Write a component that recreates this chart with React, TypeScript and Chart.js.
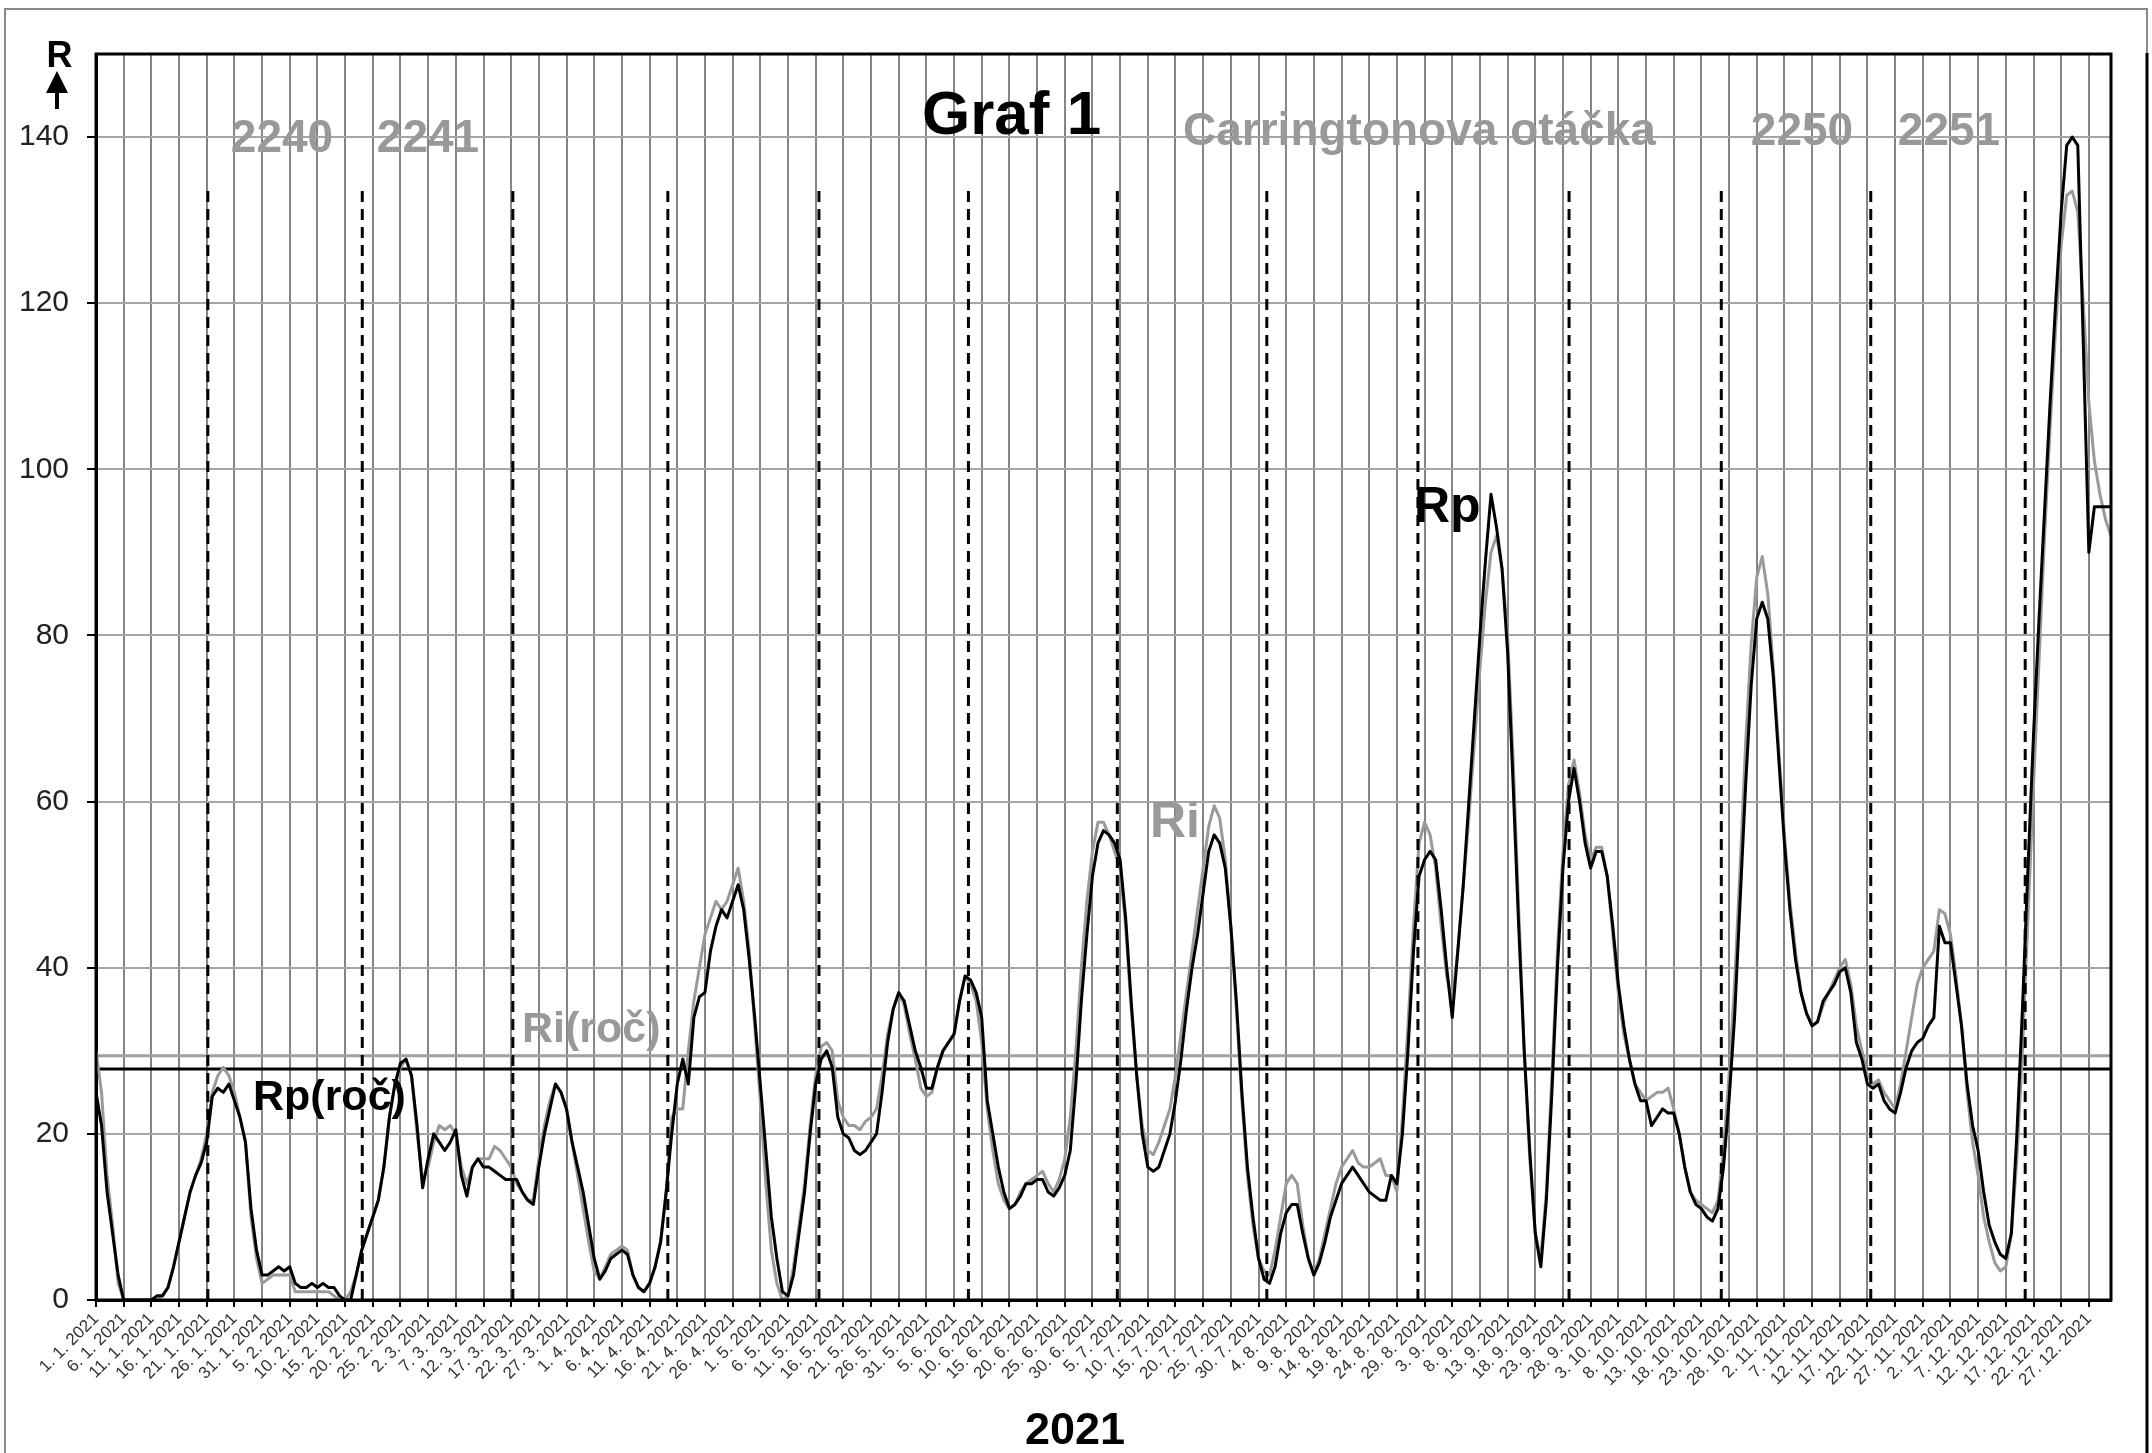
import React, { useEffect, useRef } from 'react';
import { Chart, registerables } from 'chart.js';

Chart.register(...registerables);

const FONT = '"Liberation Sans", Arial, sans-serif';

// Daily values 2021 (index 0 = 1. 1. 2021)
const rpValues = [
  25, 21, 13, 8, 3, 0, 0, 0, 0, 0,
  0, 0.5, 0.5, 1.5, 4, 7, 10, 13, 15, 16.5,
  19, 24.5, 25.5, 25, 26, 24, 22, 19, 11, 6,
  3, 3, 3.5, 4, 3.5, 4, 2, 1.5, 1.5, 2,
  1.5, 2, 1.5, 1.5, 0.5, 0, 0, 3, 6, 8,
  10, 12, 16, 22, 26, 28.5, 29, 27, 21, 13.5,
  17, 20, 19, 18, 19, 20.5, 15, 12.5, 16, 17,
  16, 16, 15.5, 15, 14.5, 14.5, 14.5, 13, 12, 11.5,
  16, 20, 23, 26, 25, 23, 19, 16, 13, 9,
  5, 2.5, 3.5, 5, 5.5, 6, 5.5, 3, 1.5, 1,
  2, 4, 7, 13, 20, 26, 29, 26, 34, 36.5,
  37, 42, 45, 47, 46, 48, 50, 47, 41, 34,
  26, 18, 10, 5, 1, 0.5, 3, 8, 13, 20,
  26, 29, 30, 28, 22, 20, 19.5, 18, 17.5, 18,
  19, 20, 25, 31, 35, 37, 36, 33, 30, 28,
  25.5, 25.5, 28, 30, 31, 32, 36, 39, 38.5, 37,
  34, 24, 20, 16, 13, 11, 11.5, 12.5, 14, 14,
  14.5, 14.5, 13, 12.5, 13.5, 15, 18, 26, 36, 44,
  51, 55, 56.5, 56, 55, 53, 46, 36, 27, 20,
  16, 15.5, 16, 18, 20, 24, 29, 35, 40, 44,
  49, 54, 56, 55, 52, 45, 36, 25, 16, 10,
  5, 2.5, 2, 4, 8, 10.5, 11.5, 11.5, 8, 5,
  3, 4.5, 7, 10, 12, 14, 15, 16, 15, 14,
  13, 12.5, 12, 12, 15, 14, 20, 30, 42, 51,
  53, 54, 53, 47, 40, 34, 42, 50, 60, 70,
  80, 89, 97, 93, 88, 78, 62, 45, 30, 18,
  8, 4, 12, 25, 40, 52, 60, 64, 60, 55,
  52, 54, 54, 51, 45, 38, 33, 29, 26, 24,
  24, 21, 22, 23, 22.5, 22.5, 20, 16, 13, 11.5,
  11, 10, 9.5, 11, 16, 24, 34, 48, 62, 74,
  82, 84, 82, 75, 65, 55, 47, 41, 37, 34.5,
  33, 33.5, 36, 37, 38, 39.5, 40, 37, 31, 29,
  26, 25.5, 26, 24, 23, 22.5, 25, 28, 30, 31,
  31.5, 33, 34, 45, 43, 43, 38, 33, 26, 21,
  18, 13, 9, 7, 5.5, 5, 8, 20, 35, 52,
  68, 82, 95, 108, 120, 131, 139, 140, 139, 115,
  90, 95.5, 95.5, 95.5, 95.5,
];

const riValues = [
  30, 25, 15, 9, 2, 0, 0, 0, 0, 0,
  0, 0, 0.5, 1.5, 4, 7, 10, 13, 15, 17,
  20, 25, 27, 28, 27, 25, 22, 19, 10, 5,
  2, 2.5, 3, 3, 3, 3, 1, 1, 1, 1,
  1, 1, 1, 0.5, 0, 0, 1, 3, 6, 8,
  10, 12, 16, 22, 26, 28, 29, 27, 20, 14.5,
  16, 19, 21, 20.5, 21, 20, 16, 14, 16, 17,
  17, 17, 18.5, 18, 17, 16, 14, 13, 12, 12,
  17, 21, 24, 26, 25, 23, 19, 15, 11, 7,
  3.5, 2.5, 4, 5.5, 6, 6.5, 6, 3, 1.5, 1,
  2, 4, 7, 13, 22, 23, 23, 30, 36, 40,
  44, 46, 48, 47, 48, 50, 52, 48, 42, 33,
  24, 14, 6, 2, 0, 0.5, 4, 9, 14, 21,
  27, 30.5, 31, 30, 24, 22, 21, 21, 20.5, 21.5,
  22, 23, 27, 32, 35, 37, 35.5, 32, 29, 25.5,
  24.5, 25, 28, 30, 31, 32, 36, 39, 38, 36,
  31, 23, 18, 14, 12, 11, 11.5, 13, 14, 14.5,
  15, 15.5, 14, 13, 14.5, 17, 22, 30, 40, 48,
  54, 57.5, 57.5, 56, 54, 52, 45, 35, 27, 21,
  18, 17.5, 19, 21, 23, 27, 32, 37, 42, 47,
  52, 57, 59.5, 58, 53, 45, 35, 24, 15, 9,
  5, 3.5, 3, 6, 10, 14, 15, 14, 9, 5,
  3, 5, 8, 11, 14, 16, 17, 18, 16.5, 16,
  16, 16.5, 17, 15, 15, 13, 22, 33, 45, 55,
  57.5, 56, 52, 45, 39, 36, 42, 50, 58, 67,
  76, 84, 90, 92, 88, 80, 65, 47, 30, 17,
  8, 5, 13, 27, 42, 54, 62, 65, 61, 56,
  53, 54.5, 54.5, 51, 44, 37, 32, 29, 26, 25,
  24, 24.5, 25, 25, 25.5, 23, 20, 16, 13, 12,
  11.5, 11, 10.5, 12, 18, 27, 38, 52, 67, 79,
  87, 89.5, 85, 76, 66, 56, 48, 42, 37, 34.5,
  33, 33.5, 35.5, 37, 38.5, 40, 41, 38, 33, 30,
  27, 26, 26.5, 25, 24, 23, 26, 30, 34, 38,
  40, 41, 42, 47, 46.5, 44, 39, 33, 25, 19,
  15, 10, 7, 4.5, 3.5, 4, 8, 17, 30, 46,
  62, 77, 92, 105, 117, 127, 133, 133.5, 131, 120,
  108, 101, 97, 94, 92,
];

const rpYear = 27.8;
const riYear = 29.4;

// Carrington rotation boundaries (day index) and the height of their markers
const carringtonDays = [20.2, 48.1, 75.3, 103.3, 130.6, 157.6, 184.5, 211.5, 238.8, 266.1, 293.6, 320.6, 348.5];
const carringtonTop = 134;

const xTickDays = [
  0, 5, 10, 15, 20, 25, 30, 35, 40, 45, 50, 55, 60, 65, 70, 75, 80, 85, 90, 95,
  100, 105, 110, 115, 120, 125, 130, 135, 140, 145, 150, 155, 160, 165, 170, 175, 180, 185, 190, 195,
  200, 205, 210, 215, 220, 225, 230, 235, 240, 245, 250, 255, 260, 265, 270, 275, 280, 285, 290, 295,
  300, 305, 310, 315, 320, 325, 330, 335, 340, 345, 350, 355, 360,
];
const xTickLabels = [
  '1. 1. 2021', '6. 1. 2021', '11. 1. 2021', '16. 1. 2021', '21. 1. 2021', '26. 1. 2021', '31. 1. 2021',
  '5. 2. 2021', '10. 2. 2021', '15. 2. 2021', '20. 2. 2021', '25. 2. 2021',
  '2. 3. 2021', '7. 3. 2021', '12. 3. 2021', '17. 3. 2021', '22. 3. 2021', '27. 3. 2021',
  '1. 4. 2021', '6. 4. 2021', '11. 4. 2021', '16. 4. 2021', '21. 4. 2021', '26. 4. 2021',
  '1. 5. 2021', '6. 5. 2021', '11. 5. 2021', '16. 5. 2021', '21. 5. 2021', '26. 5. 2021', '31. 5. 2021',
  '5. 6. 2021', '10. 6. 2021', '15. 6. 2021', '20. 6. 2021', '25. 6. 2021', '30. 6. 2021',
  '5. 7. 2021', '10. 7. 2021', '15. 7. 2021', '20. 7. 2021', '25. 7. 2021', '30. 7. 2021',
  '4. 8. 2021', '9. 8. 2021', '14. 8. 2021', '19. 8. 2021', '24. 8. 2021', '29. 8. 2021',
  '3. 9. 2021', '8. 9. 2021', '13. 9. 2021', '18. 9. 2021', '23. 9. 2021', '28. 9. 2021',
  '3. 10. 2021', '8. 10. 2021', '13. 10. 2021', '18. 10. 2021', '23. 10. 2021', '28. 10. 2021',
  '2. 11. 2021', '7. 11. 2021', '12. 11. 2021', '17. 11. 2021', '22. 11. 2021', '27. 11. 2021',
  '2. 12. 2021', '7. 12. 2021', '12. 12. 2021', '17. 12. 2021', '22. 12. 2021', '27. 12. 2021',
];
const yTicks = [0, 20, 40, 60, 80, 100, 120, 140];

const GRAY_TEXT = '#999999';

const decorPlugin = {
  id: 'decor',
  afterDraw(chart: any) {
    const ctx = chart.ctx as CanvasRenderingContext2D;
    const a = chart.chartArea;
    ctx.save();
    // plot frame
    ctx.strokeStyle = '#000';
    ctx.lineWidth = 3;
    ctx.strokeRect(a.left, a.top, a.right - a.left, a.bottom - a.top);
    // outer frame
    ctx.strokeStyle = '#8a8a8a';
    ctx.lineWidth = 2;
    ctx.strokeRect(5, 9, 2142, 1500);
    ctx.strokeStyle = '#000';
    ctx.lineWidth = 3;
    ctx.beginPath();
    ctx.moveTo(2147, 53);
    ctx.lineTo(2147, 1453);
    ctx.stroke();

    const txt = (s: string, x: number, y: number, size: number, color: string, align: CanvasTextAlign = 'left') => {
      ctx.font = `bold ${size}px ${FONT}`;
      ctx.fillStyle = color;
      ctx.textAlign = align;
      ctx.textBaseline = 'alphabetic';
      ctx.fillText(s, x, y);
    };
    // axis label R with arrow
    txt('R', 59.5, 67, 36, '#000', 'center');
    ctx.fillStyle = '#000';
    ctx.beginPath();
    ctx.moveTo(57, 71);
    ctx.lineTo(68, 93);
    ctx.lineTo(46, 93);
    ctx.closePath();
    ctx.fill();
    ctx.fillRect(55, 92, 4, 17);

    txt('Graf 1', 922, 134, 62, '#000');
    txt('2240', 282, 152, 46, GRAY_TEXT, 'center');
    txt('2241', 428, 152, 46, GRAY_TEXT, 'center');
    txt('Carringtonova otáčka', 1183, 145, 46, GRAY_TEXT);
    txt('2250', 1802, 145, 46, GRAY_TEXT, 'center');
    txt('2251', 1949, 145, 46, GRAY_TEXT, 'center');
    txt('Rp', 1414, 522, 50, '#000');
    txt('Ri', 1150, 837, 50, GRAY_TEXT);
    txt('Rp(roč)', 253, 1110, 43, '#000');
    txt('Ri(roč)', 522, 1042, 43, GRAY_TEXT);
    txt('2021', 1075, 1444, 45, '#000', 'center');
    ctx.restore();
  },
};

export default function App() {
  const ref = useRef<HTMLCanvasElement>(null);
  useEffect(() => {
    const toPts = (arr: number[]) => arr.map((v, i) => ({ x: i, y: v }));
    const datasets: any[] = [
      { label: 'Rp', data: toPts(rpValues), borderColor: '#000', borderWidth: 3, pointRadius: 0, borderJoinStyle: 'round', order: 1 },
      { label: 'Ri', data: toPts(riValues), borderColor: '#9a9a9a', borderWidth: 3, pointRadius: 0, borderJoinStyle: 'round', order: 2 },
      { label: 'Rp(roč)', data: [{ x: 0, y: rpYear }, { x: 364, y: rpYear }], borderColor: '#000', borderWidth: 3, pointRadius: 0, order: 3 },
      { label: 'Ri(roč)', data: [{ x: 0, y: riYear }, { x: 364, y: riYear }], borderColor: '#a0a0a0', borderWidth: 3, pointRadius: 0, order: 4 },
      ...carringtonDays.map((d) => ({
        label: 'CR',
        data: [{ x: d, y: 0 }, { x: d, y: carringtonTop }],
        borderColor: '#000',
        borderWidth: 3,
        borderDash: [11, 7],
        pointRadius: 0,
        order: 0,
      })),
    ];
    const chart = new Chart(ref.current as HTMLCanvasElement, {
      type: 'line',
      data: { datasets },
      options: {
        responsive: false,
        devicePixelRatio: 1,
        animation: false,
        layout: { padding: { left: 0, top: 54, right: 41, bottom: 0 } },
        plugins: { legend: { display: false }, tooltip: { enabled: false }, title: { display: false } },
        scales: {
          x: {
            type: 'linear',
            min: 0,
            max: 364,
            afterBuildTicks: (s: any) => {
              s.ticks = xTickDays.map((v) => ({ value: v }));
            },
            afterFit: (s: any) => {
              s.height = 153;
            },
            ticks: {
              autoSkip: false,
              minRotation: 45,
              maxRotation: 45,
              color: '#333',
              padding: 2,
              font: { size: 17, family: FONT },
              callback: (_v: any, i: number) => xTickLabels[i],
            },
            grid: { color: '#858585', lineWidth: 2, tickLength: 7, tickColor: '#000', tickWidth: 2 },
            border: { display: true, color: '#000', width: 3 },
          },
          y: {
            type: 'linear',
            min: 0,
            max: 150,
            afterBuildTicks: (s: any) => {
              s.ticks = yTicks.map((v) => ({ value: v }));
            },
            afterFit: (s: any) => {
              s.width = 96;
            },
            ticks: {
              color: '#222',
              padding: 18,
              font: { size: 30, family: FONT },
              callback: (v: any) => String(v),
            },
            grid: { color: '#a5a5a5', lineWidth: 2, tickLength: 9, tickColor: '#000', tickWidth: 2 },
            border: { display: true, color: '#000', width: 3 },
          },
        },
      },
      plugins: [decorPlugin],
    } as any);
    return () => chart.destroy();
  }, []);
  return (
    <div style={{ position: 'fixed', left: 0, top: 0, width: 2152, height: 1453, background: '#fff' }}>
      <canvas ref={ref} width={2152} height={1453} style={{ width: 2152, height: 1453, display: 'block' }} />
    </div>
  );
}
